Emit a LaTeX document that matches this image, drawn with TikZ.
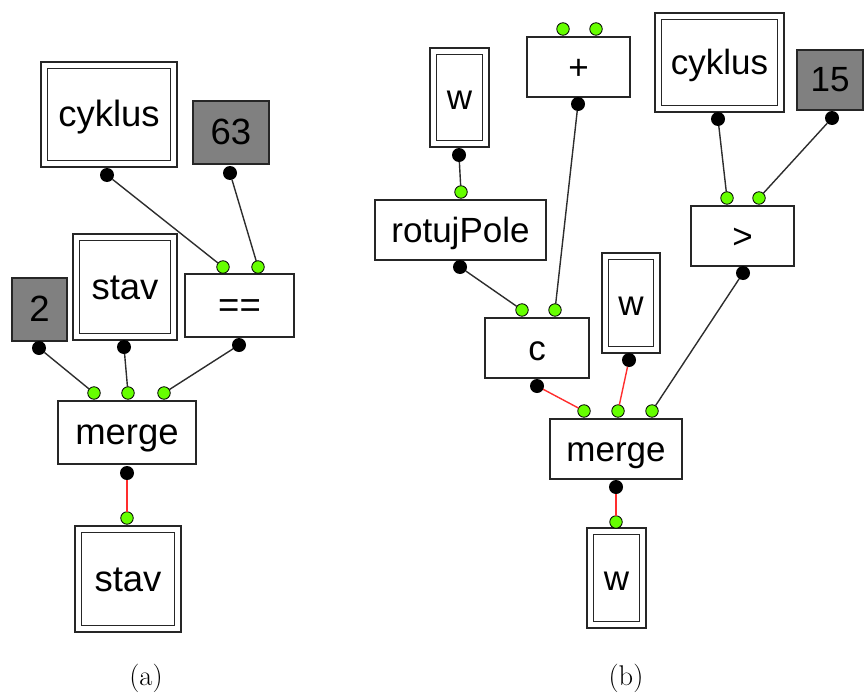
\documentclass[tikz,border=0pt]{standalone}
\usepackage{fontspec}
\newfontfamily\boxfont{Liberation Sans}
\definecolor{portgreen}{RGB}{102,255,0}
\definecolor{constgray}{RGB}{128,128,128}
\definecolor{wirered}{RGB}{255,45,45}
\definecolor{wiregray}{RGB}{45,45,45}
\begin{document}
\begin{tikzpicture}[x=1pt,y=-1pt,
  every node/.style={inner sep=0pt, outer sep=0pt},
  opbox/.style={rectangle, draw=black!85, line width=1.4pt, fill=white,
    font=\boxfont\fontsize{35}{35}\selectfont, text height=24pt, text depth=0pt},
  bigtext/.style={font=\boxfont\fontsize{36.5}{36.5}\selectfont},
  constbox/.style={opbox, fill=constgray},
  varbox/.style={opbox, double=white, double distance=5pt},
  inport/.style={circle, draw=black, line width=0.8pt, fill=portgreen, minimum size=12.5pt},
  outport/.style={circle, fill=black, minimum size=14pt},
  wire/.style={draw=wiregray, line width=1.4pt},
  redwire/.style={draw=wirered, line width=1.4pt},
  caption/.style={anchor=base, font=\fontsize{28.5}{28.5}\selectfont}
]
\useasboundingbox (0,0) rectangle (864,693);

% ---------------- (a) ----------------
\node[varbox, bigtext, minimum width=129.5pt, minimum height=98.5pt] (cykA) at (109,114.5) {cyklus};
\node[constbox, bigtext, minimum width=76pt, minimum height=63pt] (c63) at (231,132.5) {63};
\node[opbox, bigtext, minimum width=109pt, minimum height=63pt] (eq) at (239.5,305.5) {==};
\node[varbox, bigtext, minimum width=97.5pt, minimum height=99.5pt] (stavA) at (125,287) {stav};
\node[constbox, bigtext, minimum width=55pt, minimum height=63pt] (c2) at (39.5,309.5) {2};
\node[opbox, bigtext, minimum width=138pt, minimum height=63pt] (mergeA) at (127,432.5) {merge};
\node[varbox, bigtext, minimum width=99.5pt, minimum height=99.5pt] (stavB) at (128,579) {stav};

\node[outport] (cykAo) at (107,175) {};
\node[outport] (c63o) at (230,173) {};
\node[inport] (eqi1) at (223,267) {};
\node[inport] (eqi2) at (258,267) {};
\node[outport] (eqo) at (239,345) {};
\node[outport] (stavAo) at (124,347) {};
\node[outport] (c2o) at (39,348) {};
\node[inport] (mAi1) at (94,393) {};
\node[inport] (mAi2) at (128,393) {};
\node[inport] (mAi3) at (164,393) {};
\node[outport] (mAo) at (127,473) {};
\node[inport] (stavBi) at (127,518) {};

\draw[wire] (cykAo) -- (eqi1);
\draw[wire] (c63o) -- (eqi2);
\draw[wire] (c2o) -- (mAi1);
\draw[wire] (stavAo) -- (mAi2);
\draw[wire] (eqo) -- (mAi3);
\draw[redwire] (mAo) -- (stavBi);

\node[caption] (capA) at (146,685) {(a)};

% ---------------- (b) ----------------
\node[varbox, minimum width=52.5pt, minimum height=92.5pt] (wTop) at (459.5,97.5) {w};
\node[opbox, minimum width=171pt, minimum height=60pt] (rot) at (460.5,230) {rotujPole};
\node[opbox, minimum width=103pt, minimum height=60pt] (plus) at (578.5,67) {+};
\node[varbox, minimum width=122.5pt, minimum height=92.5pt] (cykB) at (719.5,62.5) {cyklus};
\node[constbox, minimum width=66pt, minimum height=60pt] (c15) at (830,80) {15};
\node[opbox, minimum width=103pt, minimum height=60pt] (gt) at (742.5,236) {>};
\node[opbox, minimum width=104pt, minimum height=60pt] (cop) at (537,348) {c};
\node[varbox, minimum width=51.5pt, minimum height=93.5pt] (wMid) at (631,303) {w};
\node[opbox, minimum width=132pt, minimum height=60pt] (mergeB) at (616,449) {merge};
\node[varbox, minimum width=52.5pt, minimum height=93.5pt] (wBot) at (616.5,578) {w};

\node[outport] (wTopo) at (459,155) {};
\node[inport] (roti) at (461,192) {};
\node[outport] (roto) at (460,267) {};
\node[inport] (plusi1) at (563,29) {};
\node[inport] (plusi2) at (596,29) {};
\node[outport] (pluso) at (578,104) {};
\node[outport] (cykBo) at (718,119) {};
\node[outport] (c15o) at (832,118) {};
\node[inport] (gti1) at (727,198) {};
\node[inport] (gti2) at (759,198) {};
\node[outport] (gto) at (743,273) {};
\node[inport] (copi1) at (522,310) {};
\node[inport] (copi2) at (555,310) {};
\node[outport] (copo) at (537,386) {};
\node[outport] (wMido) at (629,360) {};
\node[inport] (mBi1) at (584,411) {};
\node[inport] (mBi2) at (618,411) {};
\node[inport] (mBi3) at (652,411) {};
\node[outport] (mBo) at (616,487) {};
\node[inport] (wBoti) at (616,522) {};

\draw[wire] (wTopo) -- (roti);
\draw[wire] (roto) -- (copi1);
\draw[wire] (pluso) -- (copi2);
\draw[wire] (cykBo) -- (gti1);
\draw[wire] (c15o) -- (gti2);
\draw[wire] (gto) -- (mBi3);
\draw[redwire] (copo) -- (mBi1);
\draw[redwire] (wMido) -- (mBi2);
\draw[redwire] (mBo) -- (wBoti);

\node[caption] (capB) at (626,685) {(b)};
\end{tikzpicture}
\end{document}
